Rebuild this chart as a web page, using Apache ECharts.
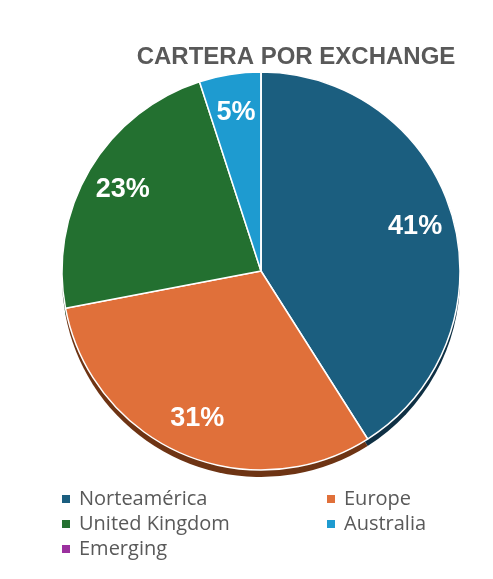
<!DOCTYPE html>
<html>
<head>
<meta charset="utf-8">
<script src="https://cdn.jsdelivr.net/npm/echarts@6/dist/echarts.min.js"></script>
<style>
  html, body { margin: 0; padding: 0; background: #fff; }
  #main { width: 493px; height: 579px; }
</style>
</head>
<body>
<div id="main"></div>
<script>
var regions = ['Norteamérica', 'Europe', 'United Kingdom', 'Australia', 'Emerging'];
var shares = [41, 31, 23, 5, 0];
var colors = ['#1b5e7f', '#e0703a', '#237030', '#1e9bd0', '#9b309e'];
var shadowColors = ['#0f3044', '#6e3414', '#123a18', '#0e4e6a', '#4e184f'];

var dom = document.getElementById('main');
var myChart = echarts.init(dom, null, { renderer: 'canvas' });

var mainData = regions.map(function (name, i) {
    return { name: name, value: shares[i], itemStyle: { color: colors[i] } };
});
var shadowData = regions.map(function (name, i) {
    return { name: name, value: shares[i], itemStyle: { color: shadowColors[i] } };
});
var labelData = regions.map(function (name, i) {
    return { name: name, value: shares[i], itemStyle: { color: 'rgba(0,0,0,0)' } };
});

var legendText = { fontFamily: 'Open Sans', fontSize: 20, color: '#595959', padding: [0, 0, 0, 3] };

var option = {
    animation: false,
    title: {
        text: 'CARTERA POR EXCHANGE',
        left: 291,
        textAlign: 'center',
        top: 40,
        textStyle: {
            fontFamily: 'Liberation Sans',
            fontWeight: 'bold',
            fontSize: 24,
            color: '#595959'
        }
    },
    legend: [
        {
            data: ['Norteamérica', 'United Kingdom', 'Emerging'],
            orient: 'vertical',
            left: 60,
            top: 489,
            padding: 0,
            itemWidth: 10,
            itemHeight: 10,
            itemGap: 5,
            icon: 'rect',
            textStyle: legendText
        },
        {
            data: ['Europe', 'Australia'],
            orient: 'vertical',
            left: 325,
            top: 489,
            padding: 0,
            itemWidth: 10,
            itemHeight: 10,
            itemGap: 5,
            icon: 'rect',
            textStyle: legendText
        }
    ],
    series: [
        {
            name: 'Cartera',
            type: 'pie',
            center: [261, 271],
            radius: [0, 199],
            startAngle: 90,
            clockwise: true,
            z: 3,
            silent: true,
            label: { show: false },
            labelLine: { show: false },
            itemStyle: { borderColor: '#ffffff', borderWidth: 1.5 },
            data: mainData
        },
        {
            name: 'Sombra',
            type: 'pie',
            center: [261, 278],
            radius: [0, 199],
            startAngle: 90,
            clockwise: true,
            z: 1,
            silent: true,
            label: { show: false },
            labelLine: { show: false },
            data: shadowData
        },
        {
            name: 'Etiquetas',
            type: 'pie',
            center: [261, 271],
            radius: [116, 199],
            startAngle: 90,
            clockwise: true,
            z: 4,
            silent: true,
            labelLine: { show: false },
            label: {
                show: true,
                position: 'inside',
                fontFamily: 'Liberation Sans',
                fontWeight: 'bold',
                fontSize: 27,
                color: '#ffffff',
                formatter: function (p) {
                    return p.value > 0 ? p.value + '%' : '';
                }
            },
            data: labelData
        }
    ]
};

myChart.setOption(option);
</script>
</body>
</html>
